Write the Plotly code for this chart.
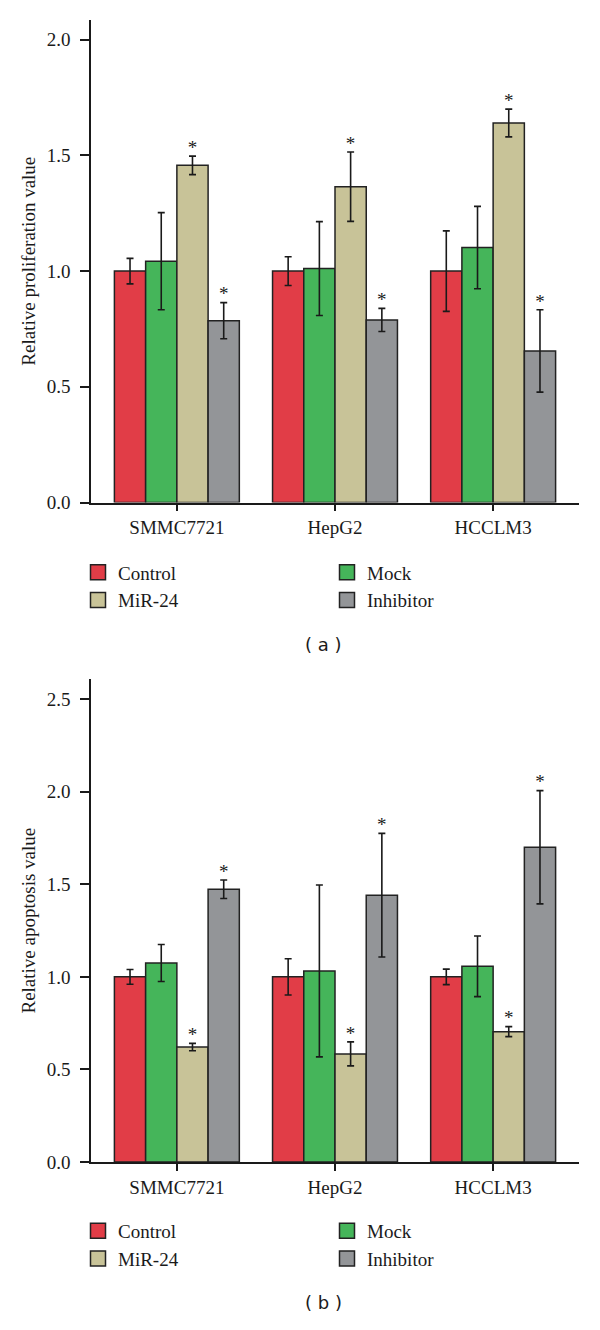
import plotly.graph_objects as go

# ---------------- data ----------------
cells = ["SMMC7721", "HepG2", "HCCLM3"]
groups = ["Control", "Mock", "MiR-24", "Inhibitor"]
group_colors = ["#E13D47", "#45B55A", "#C8C398", "#939598"]

# (a) relative proliferation
prolif_control = [1.00, 1.00, 1.00]
prolif_mock = [1.043, 1.011, 1.102]
prolif_mir24 = [1.457, 1.365, 1.640]
prolif_inhibitor = [0.786, 0.789, 0.655]
prolif_control_err = [0.055, 0.062, 0.174]
prolif_mock_err = [0.21, 0.203, 0.178]
prolif_mir24_err = [0.04, 0.15, 0.06]
prolif_inhibitor_err = [0.078, 0.05, 0.178]

# (b) relative apoptosis
apop_control = [1.00, 1.00, 1.00]
apop_mock = [1.075, 1.032, 1.057]
apop_mir24 = [0.621, 0.584, 0.704]
apop_inhibitor = [1.473, 1.441, 1.700]
apop_control_err = [0.04, 0.098, 0.042]
apop_mock_err = [0.10, 0.464, 0.164]
apop_mir24_err = [0.02, 0.065, 0.027]
apop_inhibitor_err = [0.05, 0.334, 0.306]

# groups marked significant (*)
significant_groups = ["MiR-24", "Inhibitor"]

prolif_ticks = [0.0, 0.5, 1.0, 1.5, 2.0]
apop_ticks = [0.0, 0.5, 1.0, 1.5, 2.0, 2.5]

# --------------- figure ---------------
W, H = 600, 1330
SERIF = "Liberation Serif"
INK = "#1a1a1a"
EDGE = "#222222"

def px_y(p):
    return 1 - p / H

top_dom = [px_y(506.7), px_y(20)]
bot_dom = [px_y(1171.7), px_y(685)]
top_range = [0, 2.086]
bot_range = [0, 2.607]

fig = go.Figure()

panels = [
    ("x", "y", "legend", top_dom, top_range,
     [prolif_control, prolif_mock, prolif_mir24, prolif_inhibitor],
     [prolif_control_err, prolif_mock_err, prolif_mir24_err, prolif_inhibitor_err]),
    ("x2", "y2", "legend2", bot_dom, bot_range,
     [apop_control, apop_mock, apop_mir24, apop_inhibitor],
     [apop_control_err, apop_mock_err, apop_mir24_err, apop_inhibitor_err]),
]

for xa, ya, leg, dom, rng, vals, errs in panels:
    # pixels per data unit for this panel (used to lift the asterisks a few px)
    ppu = (dom[1] - dom[0]) * H / (rng[1] - rng[0])
    lift = 7 / ppu
    for i, g in enumerate(groups):
        fig.add_trace(go.Bar(
            x=cells, y=vals[i], name=g, xaxis=xa, yaxis=ya,
            showlegend=False, offsetgroup=str(i),
            marker=dict(color=group_colors[i], line=dict(color=EDGE, width=1.5)),
            error_y=dict(type="data", array=errs[i], color=INK, thickness=1.6, width=3.5),
        ))
    for i, g in enumerate(groups):
        tops = [v + e + lift for v, e in zip(vals[i], errs[i])]
        fig.add_trace(go.Scatter(
            x=cells, y=tops, xaxis=xa, yaxis=ya, mode="text",
            text=["*" if g in significant_groups else "" for _ in cells],
            textposition="middle center", offsetgroup=str(i),
            textfont=dict(family=SERIF, size=19, color=INK),
            showlegend=False, hoverinfo="skip", cliponaxis=False,
        ))
    # legend entries (square swatches)
    for i, g in enumerate(groups):
        fig.add_trace(go.Scatter(
            x=[None], y=[None], xaxis=xa, yaxis=ya, mode="markers", name=g,
            legend=leg,
            marker=dict(symbol="square", size=15, color=group_colors[i],
                        line=dict(color=EDGE, width=1.5)),
            hoverinfo="skip",
        ))

xdom = [91 / W, 579 / W]
axis_common = dict(
    showline=True, linecolor=INK, linewidth=1.5,
    ticks="outside", tickcolor=INK, tickwidth=1.5,
    showgrid=False, zeroline=False,
    tickfont=dict(family=SERIF, size=19, color=INK),
)
legend_common = dict(orientation="h", xanchor="left", yanchor="top",
                     entrywidth=204, traceorder="normal",
                     font=dict(family=SERIF, size=19, color=INK),
                     bgcolor="rgba(0,0,0,0)")

fig.update_layout(
    width=W, height=H,
    margin=dict(l=0, r=0, t=0, b=0),
    paper_bgcolor="white", plot_bgcolor="white",
    barmode="group", bargap=0.21, bargroupgap=0,
    scattermode="group", scattergap=0.21,
    showlegend=True,
    xaxis=dict(domain=xdom, anchor="y", range=[-0.543, 2.543], ticklen=7,
               ticklabelstandoff=0, **axis_common),
    yaxis=dict(domain=top_dom, anchor="x", range=top_range,
               tickvals=prolif_ticks, tickformat=".1f", ticklen=9, ticklabelstandoff=6,
               title=dict(text="Relative proliferation value", standoff=6,
                          font=dict(family=SERIF, size=19, color=INK)),
               **axis_common),
    xaxis2=dict(domain=xdom, anchor="y2", range=[-0.543, 2.543], ticklen=7,
                ticklabelstandoff=0, **axis_common),
    yaxis2=dict(domain=bot_dom, anchor="x2", range=bot_range,
                tickvals=apop_ticks, tickformat=".1f", ticklen=9, ticklabelstandoff=6,
                title=dict(text="Relative apoptosis value", standoff=6,
                           font=dict(family=SERIF, size=19, color=INK)),
                **axis_common),
    legend=dict(x=78 / W, y=px_y(558), **legend_common),
    legend2=dict(x=78 / W, y=px_y(1222), **legend_common),
    annotations=[
        dict(text="( a )", x=323 / W, y=px_y(650), xref="paper", yref="paper",
             xanchor="center", yanchor="middle",
             showarrow=False, font=dict(family="DejaVu Sans", size=18, color=INK)),
        dict(text="( b )", x=323 / W, y=px_y(1313), xref="paper", yref="paper",
             xanchor="center", yanchor="middle",
             showarrow=False, font=dict(family="DejaVu Sans", size=18, color=INK)),
    ],
)

fig.write_html("out.html", config=dict(displayModeBar=False),
               post_script="document.body.style.margin='0px';")
